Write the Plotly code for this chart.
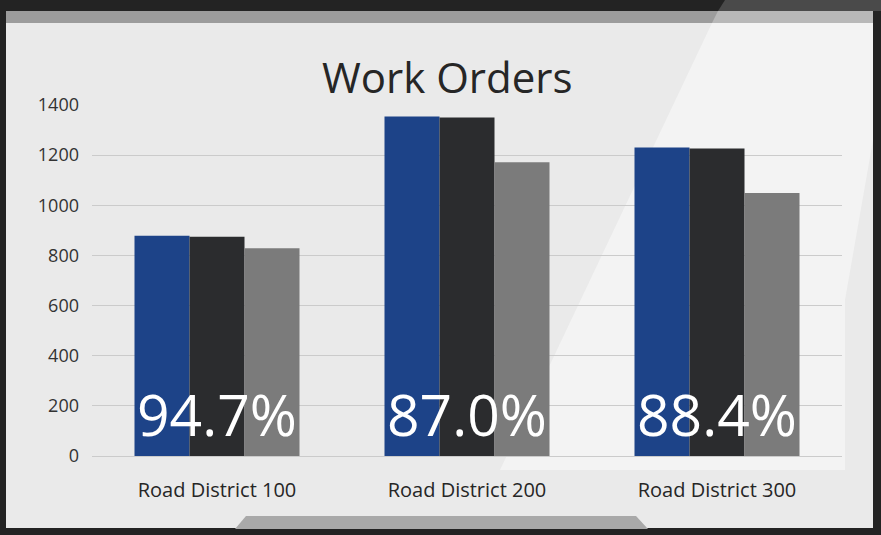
import plotly.graph_objects as go

W, H = 881, 535

districts = ["Road District 100", "Road District 200", "Road District 300"]
series_a = [878, 1354, 1230]   # blue
series_b = [875, 1350, 1226]   # black
series_c = [829, 1172, 1049]   # gray
completion = ["94.7%", "87.0%", "88.4%"]
y_ticks = [0, 200, 400, 600, 800, 1000, 1200, 1400]

colors = ["#1d4388", "#2b2c2e", "#7b7b7b"]
FONT = "Open Sans"

# pixel -> paper helpers
def px(x):
    return x / W

def py(y):
    return 1 - y / H

fig = go.Figure()
for vals, col in zip([series_a, series_b, series_c], colors):
    fig.add_trace(go.Bar(x=districts, y=vals, marker=dict(color=col, line=dict(width=0)),
                         showlegend=False, hoverinfo="y"))

shapes = []
# slide surface
shapes.append(dict(type="rect", xref="paper", yref="paper", x0=px(6), x1=px(873), y0=py(528), y1=py(12),
                   fillcolor="#eaeaea", line=dict(width=0), layer="below"))
# lighter diagonal panel
shapes.append(dict(type="path", xref="paper", yref="paper",
                   path=f"M {px(712)} {py(23)} L {px(873)} {py(23)} L {px(873)} {py(140)} "
                        f"L {px(845)} {py(300)} L {px(845)} {py(470)} L {px(500)} {py(470)} Z",
                   fillcolor="#f3f3f3", line=dict(width=0), layer="below"))
# top band
shapes.append(dict(type="rect", xref="paper", yref="paper", x0=px(6), x1=px(873), y0=py(23), y1=py(11),
                   fillcolor="#9c9c9c", line=dict(width=0), layer="below"))
shapes.append(dict(type="path", xref="paper", yref="paper",
                   path=f"M {px(712)} {py(23)} L {px(873)} {py(23)} L {px(873)} {py(11)} L {px(718)} {py(11)} Z",
                   fillcolor="#b8b8b8", line=dict(width=0), layer="below"))
# dark corner highlight above band
shapes.append(dict(type="path", xref="paper", yref="paper",
                   path=f"M {px(718)} {py(11)} L {px(881)} {py(11)} L {px(881)} {py(0)} L {px(725)} {py(0)} Z",
                   fillcolor="#4a4a4a", line=dict(width=0), layer="below"))
# bottom tab
shapes.append(dict(type="path", xref="paper", yref="paper",
                   path=f"M {px(235)} {py(529)} L {px(648)} {py(529)} L {px(636)} {py(516)} L {px(246)} {py(516)} Z",
                   fillcolor="#a9a9a9", line=dict(width=0), layer="below"))

annotations = [dict(text="Work Orders", xref="paper", yref="paper", x=px(447), y=py(76),
                    xanchor="center", yanchor="middle", showarrow=False,
                    font=dict(family=FONT, size=42, color="#262626"))]
for d, label in zip(districts, completion):
    annotations.append(dict(text=label, x=d, y=0, xref="x", yref="y", yshift=1,
                            xanchor="center", yanchor="bottom", showarrow=False,
                            font=dict(family=FONT, size=57, color="white")))

fig.update_layout(
    width=W, height=H,
    margin=dict(l=0, r=0, t=0, b=0, pad=0),
    paper_bgcolor="#232323",
    plot_bgcolor="rgba(0,0,0,0)",
    barmode="group", bargap=0.34, bargroupgap=0,
    shapes=shapes, annotations=annotations,
    font=dict(family=FONT, color="#333333"),
    xaxis=dict(domain=[px(92), px(842)], showgrid=False, showline=False, zeroline=False,
               automargin=False,
               tickfont=dict(size=20, color="#262626"), ticks="", ticklabelstandoff=20),
    yaxis=dict(domain=[py(456), py(105)], range=[0, 1400], tickvals=y_ticks,
               automargin=False,
               showgrid=True, gridcolor="#cbcbcb", gridwidth=1, zeroline=True,
               zerolinecolor="#cbcbcb", zerolinewidth=1, showline=False,
               tickfont=dict(size=18, color="#333333"), ticks="", ticklabelstandoff=12),
)

fig.write_html("out.html")
